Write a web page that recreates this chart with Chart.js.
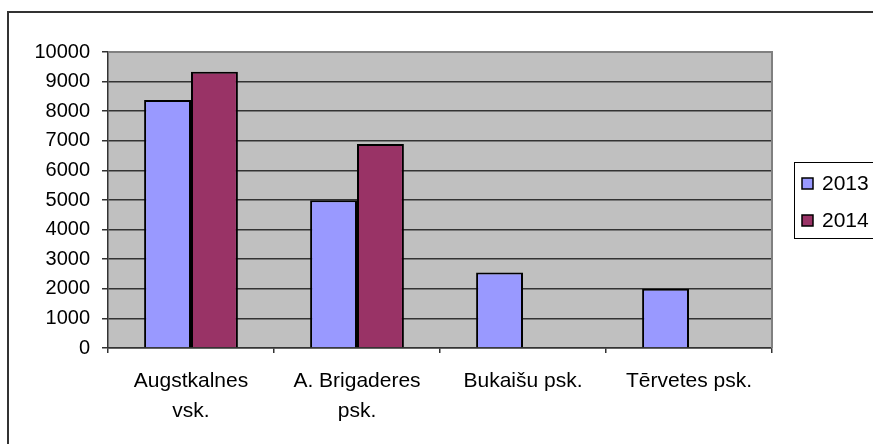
<!DOCTYPE html>
<html>
<head>
<meta charset="utf-8">
<script src="https://cdn.jsdelivr.net/npm/chart.js@4/dist/chart.umd.min.js"></script>
<style>
html,body{margin:0;padding:0;background:#fff;}
#wrap{position:relative;width:873px;height:444px;}
</style>
</head>
<body>
<div id="wrap"><canvas id="c" width="873" height="444"></canvas></div>
<script>
const categories = [["Augstkalnes","vsk."],["A. Brigaderes","psk."],"Bukaišu psk.","Tērvetes psk."];
const seriesNames = ["2013","2014"];
const values2013 = [8380, 4990, 2550, 2000];
const values2014 = [9330, 6890, null, null];
const yTicks = [0,1000,2000,3000,4000,5000,6000,7000,8000,9000,10000];

const colors = ["#9999FF","#993366"];
const FONT = "'Liberation Sans', Arial, sans-serif";

const decor = {
  id: 'decor',
  beforeDraw(chart) {
    const {ctx, chartArea: a} = chart;
    ctx.save();
    ctx.fillStyle = '#fff';
    ctx.fillRect(0,0,chart.width,chart.height);
    ctx.fillStyle = '#C0C0C0';
    ctx.fillRect(a.left, a.top, a.right - a.left, a.bottom - a.top);
    ctx.restore();
  },
  afterDraw(chart) {
    const {ctx, chartArea: a} = chart;
    ctx.save();
    ctx.strokeStyle = '#808080';
    ctx.lineWidth = 2;
    ctx.beginPath();
    ctx.moveTo(a.left, a.top);
    ctx.lineTo(a.right, a.top);
    ctx.lineTo(a.right, a.bottom);
    ctx.stroke();
    ctx.strokeStyle = '#333';
    ctx.lineWidth = 2;
    ctx.beginPath();
    ctx.moveTo(8, chart.height + 5);
    ctx.lineTo(8, 12);
    ctx.lineTo(chart.width + 5, 12);
    ctx.stroke();
    ctx.strokeStyle = '#000';
    ctx.lineWidth = 1;
    ctx.strokeRect(794.5, 162.5, 120, 76);
    ctx.font = '21px ' + FONT;
    ctx.textBaseline = 'middle';
    ctx.textAlign = 'left';
    const ys = [183, 220];
    chart.data.datasets.forEach((ds, i) => {
      ctx.fillStyle = ds.backgroundColor;
      ctx.fillRect(802, ys[i] - 5, 11, 11);
      ctx.strokeStyle = '#000';
      ctx.lineWidth = 1.5;
      ctx.strokeRect(802, ys[i] - 5, 11, 11);
      ctx.fillStyle = '#000';
      ctx.fillText(ds.label, 822, ys[i] + 1);
    });
    ctx.restore();
  }
};

new Chart(document.getElementById('c'), {
  type: 'bar',
  data: {
    labels: categories,
    datasets: [
      {label: seriesNames[0], data: values2013, backgroundColor: colors[0], borderColor: '#000', borderWidth: 2, categoryPercentage: 0.565, barPercentage: 1},
      {label: seriesNames[1], data: values2014, backgroundColor: colors[1], borderColor: '#000', borderWidth: 2, categoryPercentage: 0.565, barPercentage: 1}
    ]
  },
  options: {
    responsive: false,
    animation: false,
    events: [],
    layout: {padding: {top: 52, right: 101, bottom: 0, left: 0}},
    plugins: {legend: {display: false}, tooltip: {enabled: false}},
    scales: {
      x: {
        offset: true,
        grid: {display: true, drawOnChartArea: false, drawTicks: true, tickLength: 5, color: '#333', lineWidth: 1.5, offset: true},
        border: {display: true, color: '#333', width: 1.5},
        ticks: {color: '#000', font: {family: FONT, size: 21, lineHeight: 1.43}, padding: 13, autoSkip: false, maxRotation: 0, minRotation: 0},
        afterFit(s) { s.height = 96; }
      },
      y: {
        min: 0, max: 10000,
        afterBuildTicks(s) { s.ticks = yTicks.map(v => ({value: v})); },
        grid: {
          color: ctx => (ctx.tick && ctx.tick.value === 10000) ? '#808080' : '#333',
          lineWidth: 1.5, tickLength: 6, drawTicks: true,
          tickColor: '#333'
        },
        border: {display: true, color: '#333', width: 1.5},
        ticks: {color: '#000', font: {family: FONT, size: 20}, padding: 12, callback: v => String(v)},
        afterFit(s) { s.width = 108; }
      }
    }
  },
  plugins: [decor]
});
</script>
</body>
</html>
